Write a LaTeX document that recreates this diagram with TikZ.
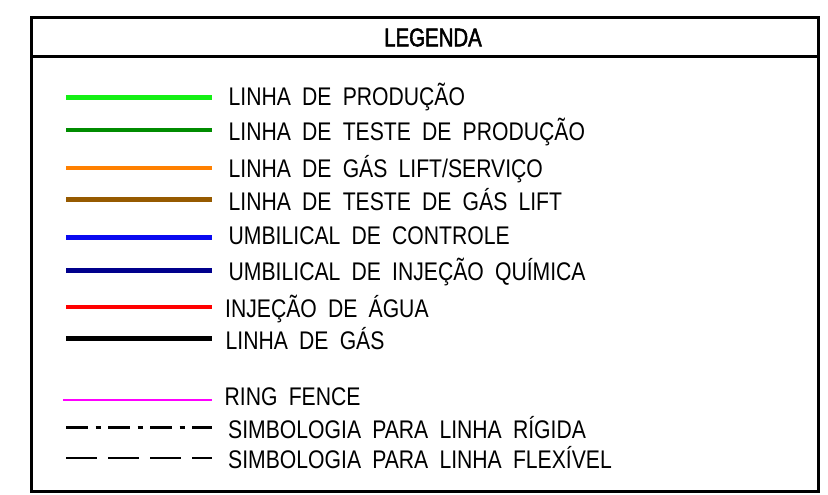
\documentclass[tikz,border=0pt]{standalone}
\usepackage{fontspec}
\setmainfont{Liberation Sans}[FakeStretch=0.83,WordSpace=1.9]
\newfontfamily\titlefont{Liberation Sans}[FakeStretch=0.8,FakeBold=2]
\definecolor{cprod}{RGB}{20,240,20}
\definecolor{cteste}{RGB}{0,140,0}
\definecolor{cgas}{RGB}{255,128,0}
\definecolor{ctgas}{RGB}{150,90,0}
\definecolor{cumb}{RGB}{10,10,240}
\definecolor{cinj}{RGB}{0,0,140}
\definecolor{cagua}{RGB}{255,0,0}
\definecolor{cring}{RGB}{255,0,255}
\begin{document}
\begin{tikzpicture}[x=1pt,y=-1pt,
  sample/.style={line width=4.7pt},
  lbl/.style={anchor=base west, inner sep=0pt, font=\fontsize{25.5}{26}\selectfont},
  frame/.style={line width=2.8pt}]
\useasboundingbox (0,0) rectangle (828,495);
% frame
\coordinate (tl) at (31.5,17.5);
\coordinate (br) at (818.5,491.5);
\coordinate (sl) at (31.5,56.5);
\coordinate (sr) at (818.5,56.5);
\draw[frame] (tl) rectangle (br);
\draw[frame] (sl) -- (sr);
\node[inner sep=0pt, font=\titlefont\fontsize{25.5}{26}\selectfont] (title) at (433,37.5) {LEGENDA};
% samples
\foreach \n/\y/\c in {1/97.5/cprod, 2/130/cteste, 3/168/cgas, 4/199.5/ctgas,
                      5/237.5/cumb, 6/270.5/cinj, 7/307/cagua, 8/338.5/black} {
  \coordinate (a\n) at (66,\y);
  \coordinate (b\n) at (212,\y);
  \draw[sample, draw=\c] (a\n) -- (b\n);
}
\coordinate (a9) at (63,400);
\coordinate (b9) at (212,400);
\draw[line width=2.5pt, draw=cring] (a9) -- (b9);
\coordinate (a10) at (66,427.5);
\coordinate (b10) at (212,427.5);
\draw[line width=3.6pt, dash pattern=on 21.5pt off 8pt on 5pt off 7.5pt] (a10) -- (b10);
\coordinate (a11) at (66,458);
\coordinate (b11) at (212,458);
\draw[line width=2.6pt, dash pattern=on 31pt off 11pt] (a11) -- (b11);
% labels
\node[lbl] (t1) at (228.5,105.6) {LINHA DE PRODUÇÃO};
\node[lbl] (t2) at (228.5,140.6) {LINHA DE TESTE DE PRODUÇÃO};
\node[lbl] (t3) at (228.5,177.1) {LINHA DE GÁS LIFT/SERVIÇO};
\node[lbl] (t4) at (228.5,210.1) {LINHA DE TESTE DE GÁS LIFT};
\node[lbl] (t5) at (228.5,244.6) {UMBILICAL DE CONTROLE};
\node[lbl] (t6) at (228.5,280.6) {UMBILICAL DE INJEÇÃO QUÍMICA};
\node[lbl] (t7) at (225,317.1) {INJEÇÃO DE ÁGUA};
\node[lbl] (t8) at (225.5,349.1) {LINHA DE GÁS};
\node[lbl] (t9) at (224.5,405.1) {RING FENCE};
\node[lbl] (t10) at (228,438.1) {SIMBOLOGIA PARA LINHA RÍGIDA};
\node[lbl] (t11) at (228,468.6) {SIMBOLOGIA PARA LINHA FLEXÍVEL};
\end{tikzpicture}
\end{document}
